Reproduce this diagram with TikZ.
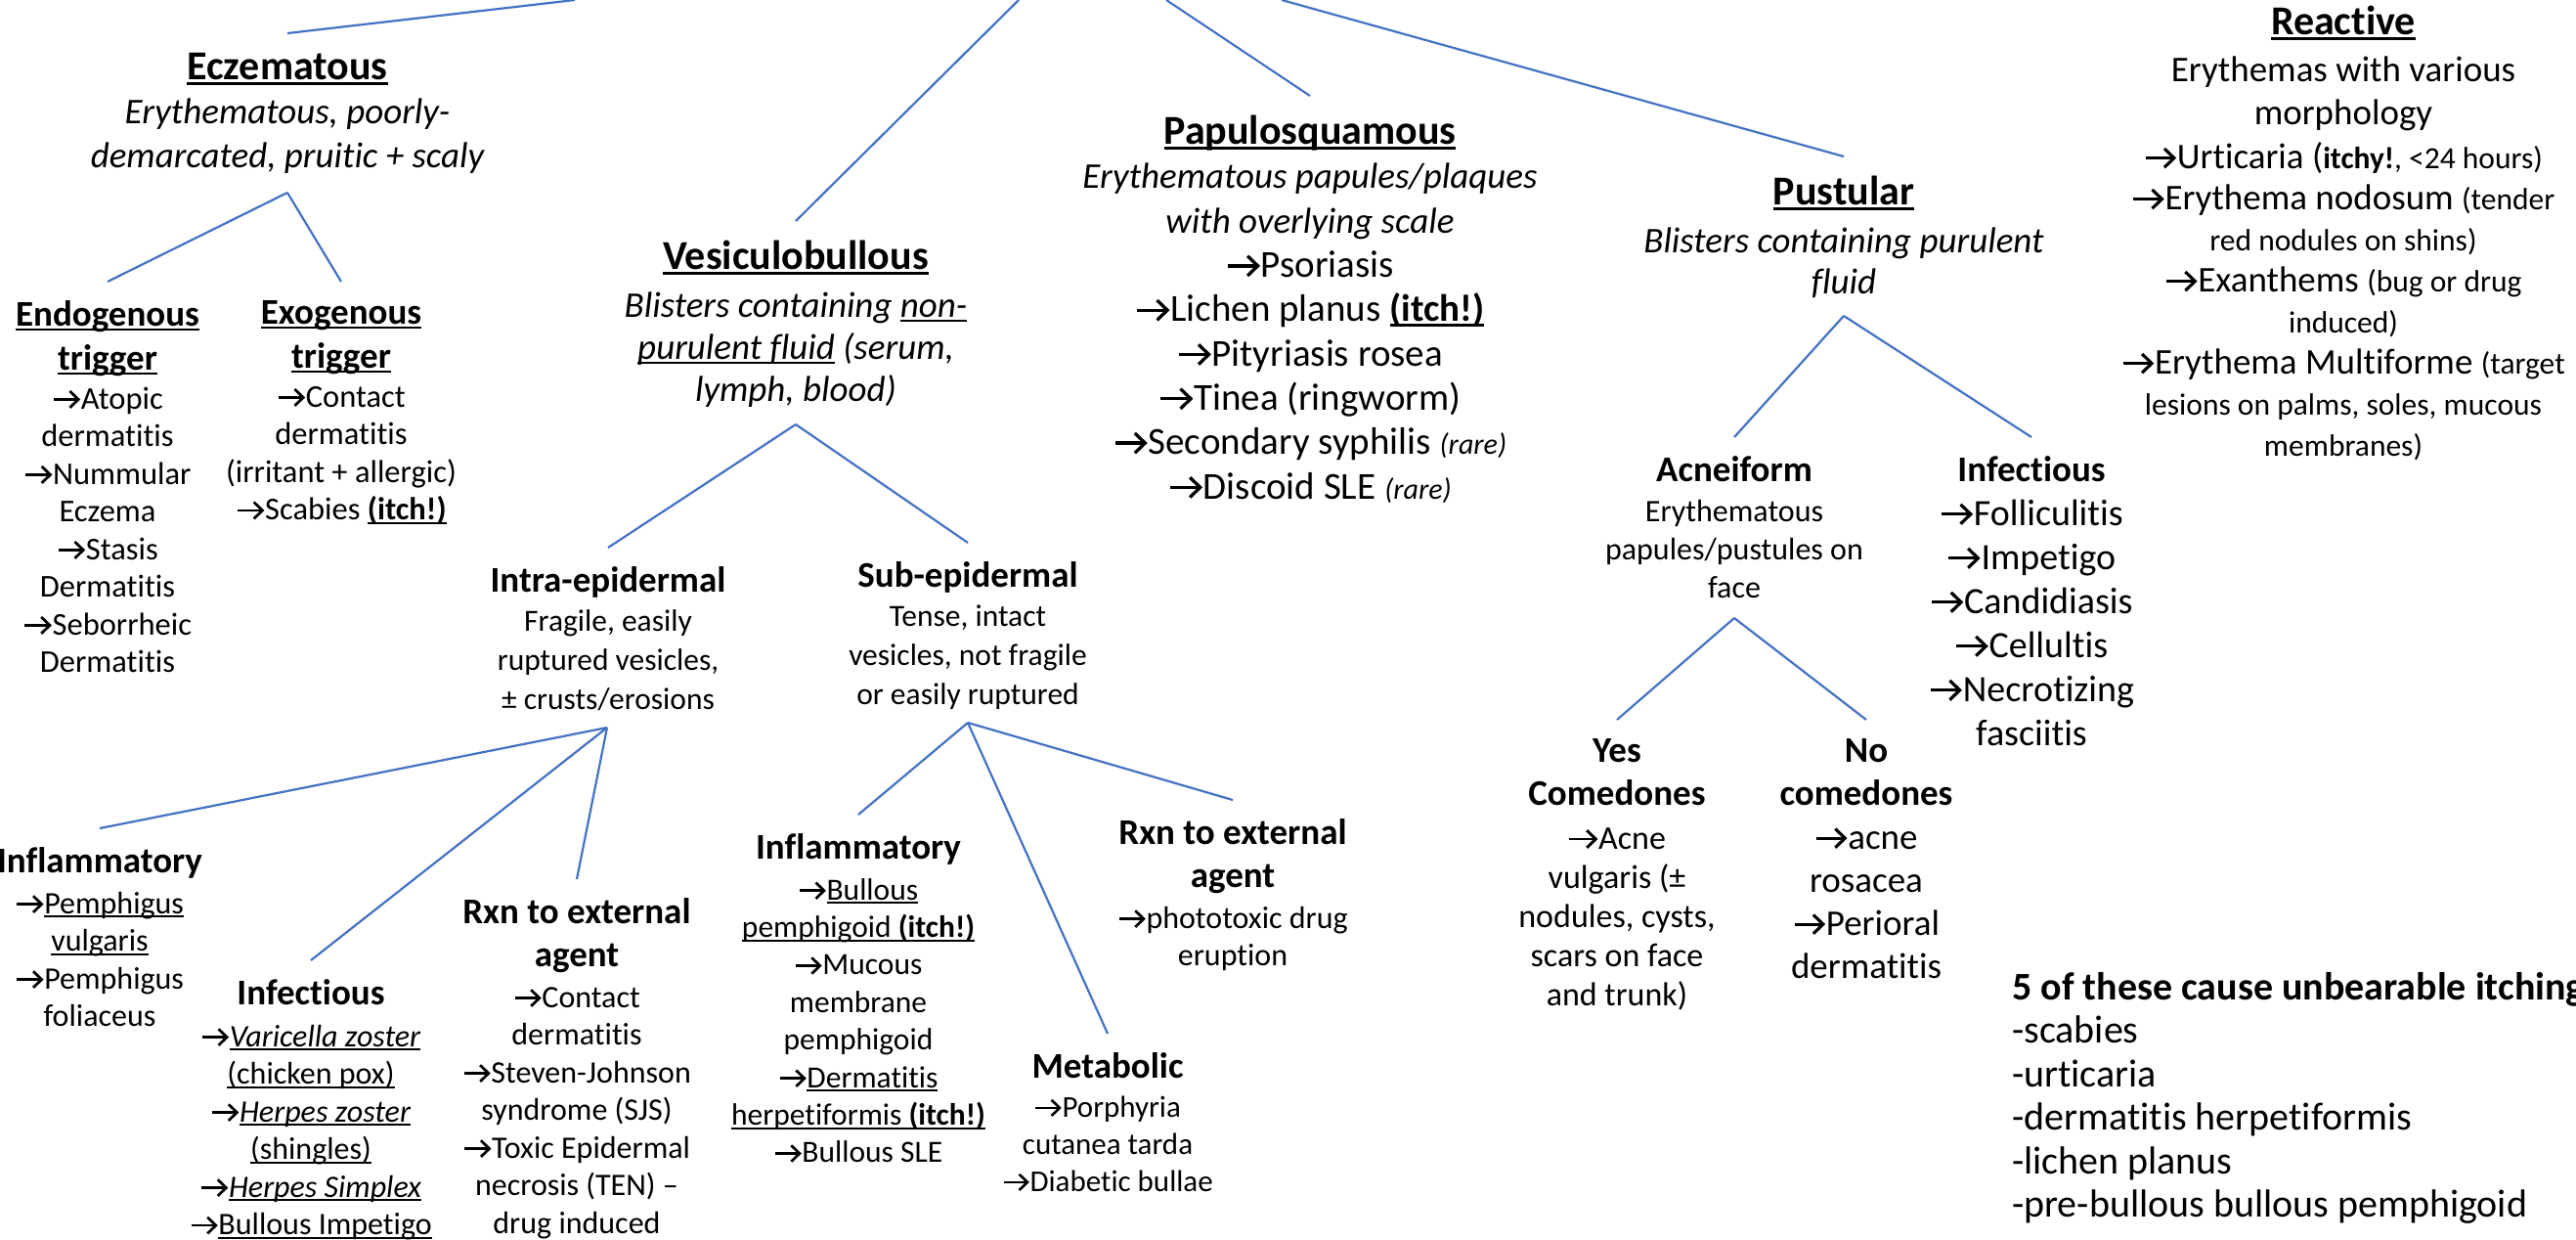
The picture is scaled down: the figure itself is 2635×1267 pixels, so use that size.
\documentclass[tikz,border=0pt]{standalone}
\usepackage{fontspec}
\setmainfont{Carlito}[Ligatures=NoCommon]
\definecolor{connblue}{HTML}{4472C4}
\newsavebox{\ulnbox}
\newcommand\rarr{\tikz[baseline=0pt,x=1em,y=1em,line width=0.085em,line cap=butt,line join=miter]{\draw[black] (0.03,0.3) -- (0.8,0.3); \draw[black] (0.55,0.04) -- (0.82,0.3) -- (0.55,0.56);}\kern0.04em}
\newcommand\uln[1]{\sbox\ulnbox{#1}\rlap{\rule[-0.13em]{\wd\ulnbox}{0.065em}}\usebox\ulnbox}
\newcommand\fsz[2]{\fontsize{#1}{#2}\selectfont}
\newcommand\bigHead[1]{{\fsz{42}{45}\bfseries\uln{#1}}}
\newcommand\subHead[1]{{\fsz{37}{40}\bfseries #1}}
\newcommand\smtxt{\fsz{31.5}{36}}
\tikzset{
  txt/.style={inner sep=0pt, align=center, anchor=north},
  conn/.style={draw=connblue, line width=2.2pt}
}
\begin{document}
\begin{tikzpicture}[x=1pt,y=-1pt]
\fill[white] (0,0) rectangle (2635,1267);
\path[use as bounding box] (0,0) rectangle (2635,1267);

% top level
\node[txt, font=\fsz{37}{45}] (ecz) at (294,54) {\bigHead{Eczematous}\\ \itshape Erythematous, poorly-\\ \itshape demarcated, pruitic + scaly};
\node[txt, font=\fsz{37}{43}] (ves) at (814,246) {\bigHead{Vesiculobullous}\\[6pt] \itshape Blisters containing \uln{non-}\\ \itshape\uln{purulent fluid} (serum,\\ \itshape lymph, blood)};
\node[txt, font=\fsz{39}{45.3}] (pap) at (1340,118) {\bigHead{Papulosquamous}\\ {\fsz{37}{45}\itshape Erythematous papules/plaques}\\ {\fsz{37}{45}\itshape with overlying scale}\\ \rarr Psoriasis\\ \rarr Lichen planus \uln{\textbf{(itch!)}}\\ \rarr Pityriasis rosea\\ \rarr Tinea (ringworm)\\ \rarr Secondary syphilis {\fsz{30}{36}\itshape (rare)}\\ \rarr Discoid SLE {\fsz{30}{36}\itshape (rare)}};
\node[txt, font=\fsz{37}{42}] (pus) at (1886,180) {\bigHead{Pustular}\\[7pt] \itshape Blisters containing purulent\\ \itshape fluid};
\node[txt, font=\fsz{37}{42}] (react) at (2397,6) {\bigHead{Reactive}\\[6pt] Erythemas with various\\[2pt] morphology\\[3pt] \rarr Urticaria ({\smtxt\bfseries itchy!}{\smtxt, <24 hours)}\\ \rarr Erythema nodosum {\smtxt (tender}\\ {\smtxt red nodules on shins)}\\ \rarr Exanthems {\smtxt (bug or drug}\\ {\smtxt induced)}\\ \rarr Erythema Multiforme {\smtxt (target}\\ {\smtxt lesions on palms, soles, mucous}\\ {\smtxt membranes)}};

% eczematous children
\node[txt, font=\fsz{32.5}{38.5}] (endo) at (110,307) {\subHead{\uln{Endogenous}}\\[6.5pt] \subHead{\uln{trigger}}\\[1.5pt] \rarr Atopic\\ dermatitis\\ \rarr Nummular\\ Eczema\\ \rarr Stasis\\ Dermatitis\\ \rarr Seborrheic\\ Dermatitis};
\node[txt, font=\fsz{32.5}{38.5}] (exo) at (349,307) {\subHead{\uln{Exogenous}}\\[6.5pt] \subHead{\uln{trigger}}\\[1.5pt] \rarr Contact\\ dermatitis\\ (irritant + allergic)\\ \rarr Scabies \uln{\textbf{(itch!)}}};

% vesiculobullous children
\node[txt, font=\fsz{31.5}{40}] (intra) at (622,579) {\subHead{Intra-epidermal}\\ Fragile, easily\\ ruptured vesicles,\\ ± crusts/erosions};
\node[txt, font=\fsz{31.5}{40}] (sub) at (990,574) {\subHead{Sub-epidermal}\\ Tense, intact\\ vesicles, not fragile\\ or easily ruptured};

\node[txt, font=\fsz{32}{38.5}] (inflA) at (102,866) {\subHead{Inflammatory}\\[3.5pt] \rarr\uln{Pemphigus}\\ \uln{vulgaris}\\ \rarr Pemphigus\\ foliaceus};
\node[txt, font=\fsz{32}{38.5}] (infB) at (318,1001) {\subHead{Infectious}\\[4.5pt] \rarr\uln{\textit{Varicella zoster}}\\ \uln{(chicken pox)}\\ \rarr\uln{\textit{Herpes zoster}}\\ \uln{(shingles)}\\ \rarr\uln{\textit{Herpes Simplex}}\\ \rarr\uln{Bullous Impetigo}};
\node[txt, font=\fsz{32}{38.5}] (rxnA) at (590,918) {\subHead{Rxn to external}\\[5.5pt] \subHead{agent}\\[3.5pt] \rarr Contact\\ dermatitis\\ \rarr Steven-Johnson\\ syndrome (SJS)\\ \rarr Toxic Epidermal\\ necrosis (TEN) –\\ drug induced};

\node[txt, font=\fsz{31.5}{38.4}] (inflB) at (878,852) {\subHead{Inflammatory}\\[3.6pt] \rarr\uln{Bullous}\\ \uln{pemphigoid \textbf{(itch!)}}\\ \rarr Mucous\\ membrane\\ pemphigoid\\ \rarr\uln{Dermatitis}\\ \uln{herpetiformis \textbf{(itch!)}}\\ \rarr Bullous SLE};
\node[txt, font=\fsz{31}{38}] (meta) at (1133,1076) {\subHead{Metabolic}\\[2pt] \rarr Porphyria\\ cutanea tarda\\ \rarr Diabetic bullae};
\node[txt, font=\fsz{32}{38}] (rxnB) at (1261,837) {\subHead{Rxn to external}\\[6pt] \subHead{agent}\\[4pt] \rarr phototoxic drug\\ eruption};

% pustular children
\node[txt, font=\fsz{32}{39}] (acne) at (1774,466) {\subHead{Acneiform}\\[2pt] Erythematous\\ papules/pustules on\\ face};
\node[txt, font=\fsz{38}{45}] (infC) at (2078,466) {\subHead{Infectious}\\ \rarr Folliculitis\\ \rarr Impetigo\\ \rarr Candidiasis\\ \rarr Cellultis\\ \rarr Necrotizing\\ fasciitis};
\node[txt, font=\fsz{34}{40}] (yes) at (1654,755) {\subHead{Yes}\\[4pt] \subHead{Comedones}\\[5pt] \rarr Acne\\ vulgaris (±\\ nodules, cysts,\\ scars on face\\ and trunk)};
\node[txt, font=\fsz{37}{44}] (no) at (1909,755) {\subHead{No}\\ \subHead{comedones}\\[1pt] \rarr acne\\ rosacea\\ \rarr Perioral\\ dermatitis};

% note
\node[anchor=north west, inner sep=0pt, align=left, font=\fsz{40}{44.5}] (itch) at (2058,994) {\textbf{5 of these cause unbearable itching}\\ -scabies\\ -urticaria\\ -dermatitis herpetiformis\\ -lichen planus\\ -pre-bullous bullous pemphigoid};

% fork points
\coordinate (t1) at (588,0);
\coordinate (t2) at (1042,0);
\coordinate (t3) at (1193,0);
\coordinate (t4) at (1311,0);
\coordinate (eczF) at (294,197);
\coordinate (vesF) at (814,434);
\coordinate (intraF) at (621,744);
\coordinate (subF) at (990,739);
\coordinate (pusF) at (1886,323);
\coordinate (acneF) at (1774,632);

% connectors
\draw[conn] (t1) -- ([yshift=20pt]ecz.north);
\draw[conn] (t2) -- ([yshift=20pt]ves.north);
\draw[conn] (t3) -- ([yshift=20pt]pap.north);
\draw[conn] (t4) -- ([yshift=20pt]pus.north);
\draw[conn] (eczF) -- ([yshift=19pt]endo.north);
\draw[conn] (eczF) -- ([yshift=19pt]exo.north);
\draw[conn] (vesF) -- ([yshift=19pt]intra.north);
\draw[conn] (vesF) -- ([yshift=19pt]sub.north);
\draw[conn] (intraF) -- ([yshift=19pt]inflA.north);
\draw[conn] (intraF) -- ([yshift=19pt]infB.north);
\draw[conn] (intraF) -- ([yshift=19pt]rxnA.north);
\draw[conn] (subF) -- ([yshift=19pt]inflB.north);
\draw[conn] (subF) -- ([yshift=19pt]meta.north);
\draw[conn] (subF) -- ([yshift=19pt]rxnB.north);
\draw[conn] (pusF) -- ([yshift=19pt]acne.north);
\draw[conn] (pusF) -- ([yshift=19pt]infC.north);
\draw[conn] (acneF) -- ([yshift=19pt]yes.north);
\draw[conn] (acneF) -- ([yshift=19pt]no.north);
\end{tikzpicture}
\end{document}
